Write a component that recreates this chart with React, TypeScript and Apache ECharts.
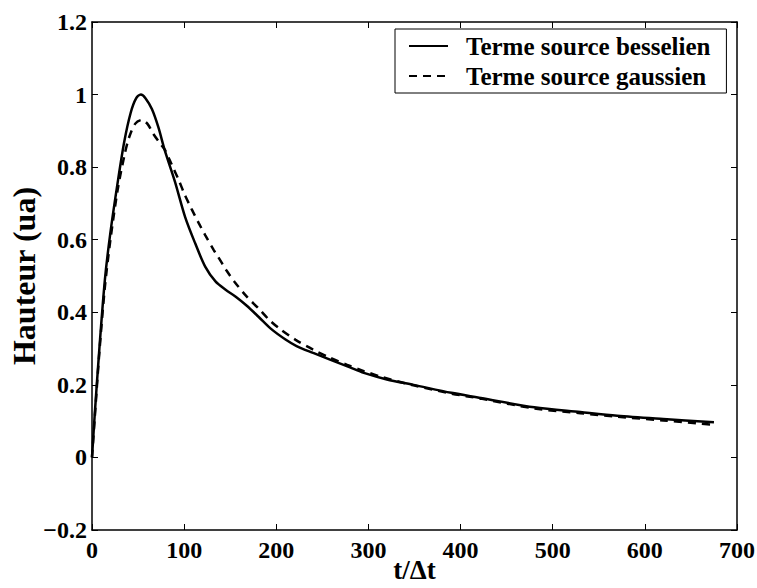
import React, { useEffect, useRef } from "react";
import * as echarts from "echarts";

const besselT = [0, 3, 8, 14, 20, 28, 35, 42, 48, 53, 58, 65, 72, 79, 90, 101, 112, 123, 134, 145, 156, 168, 181, 194, 210, 222, 240, 259, 280, 295, 320, 349, 390, 422, 480, 530, 570, 620, 675];
const besselV = [0, 0.12, 0.3, 0.49, 0.62, 0.76, 0.87, 0.95, 0.99, 1.0, 0.99, 0.96, 0.91, 0.846, 0.76, 0.663, 0.59, 0.525, 0.485, 0.462, 0.443, 0.418, 0.387, 0.355, 0.325, 0.307, 0.288, 0.269, 0.248, 0.233, 0.215, 0.2, 0.178, 0.164, 0.138, 0.125, 0.115, 0.106, 0.097];
const gaussT = [0, 3, 8, 14, 20, 28, 35, 40, 47, 54, 60, 67, 74, 79, 86, 94, 101, 108, 116, 123, 132, 137, 146, 155, 168, 181, 192, 204, 221, 240, 258, 277, 295, 313, 350, 390, 422, 480, 530, 570, 620, 675];
const gaussV = [0, 0.11, 0.29, 0.47, 0.6, 0.74, 0.83, 0.88, 0.92, 0.93, 0.92, 0.89, 0.865, 0.848, 0.81, 0.765, 0.722, 0.685, 0.645, 0.612, 0.572, 0.552, 0.515, 0.483, 0.443, 0.41, 0.38, 0.354, 0.324, 0.297, 0.275, 0.255, 0.238, 0.223, 0.198, 0.176, 0.162, 0.135, 0.122, 0.112, 0.102, 0.09];
const seriesNames = ["Terme source besselien", "Terme source gaussien"];
const xTicks = [0, 100, 200, 300, 400, 500, 600, 700];
const yTicks = [-0.2, 0, 0.2, 0.4, 0.6, 0.8, 1, 1.2];

const FONT = "'Liberation Serif', 'DejaVu Serif', serif";

export default function App() {
  const ref = useRef<HTMLDivElement>(null);
  useEffect(() => {
    if (!ref.current) return;
    const chart = echarts.init(ref.current, null, { renderer: "svg" });
    const axisText = { fontFamily: FONT, fontWeight: "bold" as const, fontSize: 24, color: "#000" };
    const fmtY = (v: number) => {
      if (Math.abs(v) < 1e-9) return "0";
      const s = String(Math.round(v * 10) / 10);
      return s.replace("-", "\u2212");
    };
    chart.setOption({
      animation: false,
      backgroundColor: "#fff",
      grid: { left: 92, right: 20, top: 22, bottom: 58, containLabel: false, outerBoundsMode: "none" },
      legend: {
        left: 395,
        top: 29,
        orient: "vertical",
        data: seriesNames,
        backgroundColor: "#fff",
        borderColor: "#000",
        borderWidth: 1,
        padding: [2, 16, 2, 13],
        itemWidth: 39,
        itemHeight: 14,
        itemGap: 0,
        itemStyle: { color: "rgba(0,0,0,0)", borderWidth: 0 },
        textStyle: { ...axisText, fontSize: 25, lineHeight: 30, padding: [0, 0, 0, 13] },
      },
      xAxis: [
        {
          type: "value",
          min: 0,
          max: 700,
          interval: 100,
          axisLine: { show: true, onZero: false, lineStyle: { color: "#000", width: 1.5 } },
          axisTick: { show: true, inside: true, length: 6, lineStyle: { color: "#000" } },
          axisLabel: { ...axisText, margin: 8, formatter: (v: number) => String(v) },
          splitLine: { show: false },
          name: "t/\u0394t",
          nameLocation: "middle",
          nameGap: 26,
          nameMoveOverlap: false,
          nameTextStyle: { ...axisText, fontSize: 27 },
        },
        {
          type: "value",
          position: "top",
          min: 0,
          max: 700,
          interval: 100,
          axisLine: { show: true, onZero: false, lineStyle: { color: "#000", width: 1.5 } },
          axisTick: { show: true, inside: true, length: 6, lineStyle: { color: "#000" } },
          axisLabel: { show: false },
          splitLine: { show: false },
        },
      ],
      yAxis: [
        {
          type: "value",
          min: -0.2,
          max: 1.2,
          interval: 0.2,
          axisLine: { show: true, onZero: false, lineStyle: { color: "#000", width: 1.5 } },
          axisTick: { show: true, inside: true, length: 6, lineStyle: { color: "#000" } },
          axisLabel: { ...axisText, margin: 5, formatter: fmtY },
          splitLine: { show: false },
          name: "Hauteur (ua)",
          nameLocation: "middle",
          nameGap: 52,
          nameMoveOverlap: false,
          nameRotate: 90,
          nameTextStyle: { ...axisText, fontSize: 32 },
        },
        {
          type: "value",
          position: "right",
          min: -0.2,
          max: 1.2,
          interval: 0.2,
          axisLine: { show: true, onZero: false, lineStyle: { color: "#000", width: 1.5 } },
          axisTick: { show: true, inside: true, length: 6, lineStyle: { color: "#000" } },
          axisLabel: { show: false },
          splitLine: { show: false },
        },
      ],
      series: [
        {
          name: seriesNames[0],
          type: "line",
          xAxisIndex: 0,
          yAxisIndex: 0,
          data: besselT.map((t, i) => [t, besselV[i]]),
          smooth: 0.3,
          symbol: "none",
          lineStyle: { color: "#000", width: 2.5, type: "solid" },
          itemStyle: { color: "#000" },
        },
        {
          name: seriesNames[1],
          type: "line",
          xAxisIndex: 0,
          yAxisIndex: 0,
          data: gaussT.map((t, i) => [t, gaussV[i]]),
          smooth: 0.3,
          symbol: "none",
          lineStyle: { color: "#000", width: 2.5, type: [8, 6] },
          itemStyle: { color: "#000" },
        },
      ],
    });
    return () => chart.dispose();
  }, []);
  return (
    <div
      ref={ref}
      style={{ position: "absolute", left: 0, top: 0, width: 757, height: 588, background: "#fff" }}
    />
  );
}
